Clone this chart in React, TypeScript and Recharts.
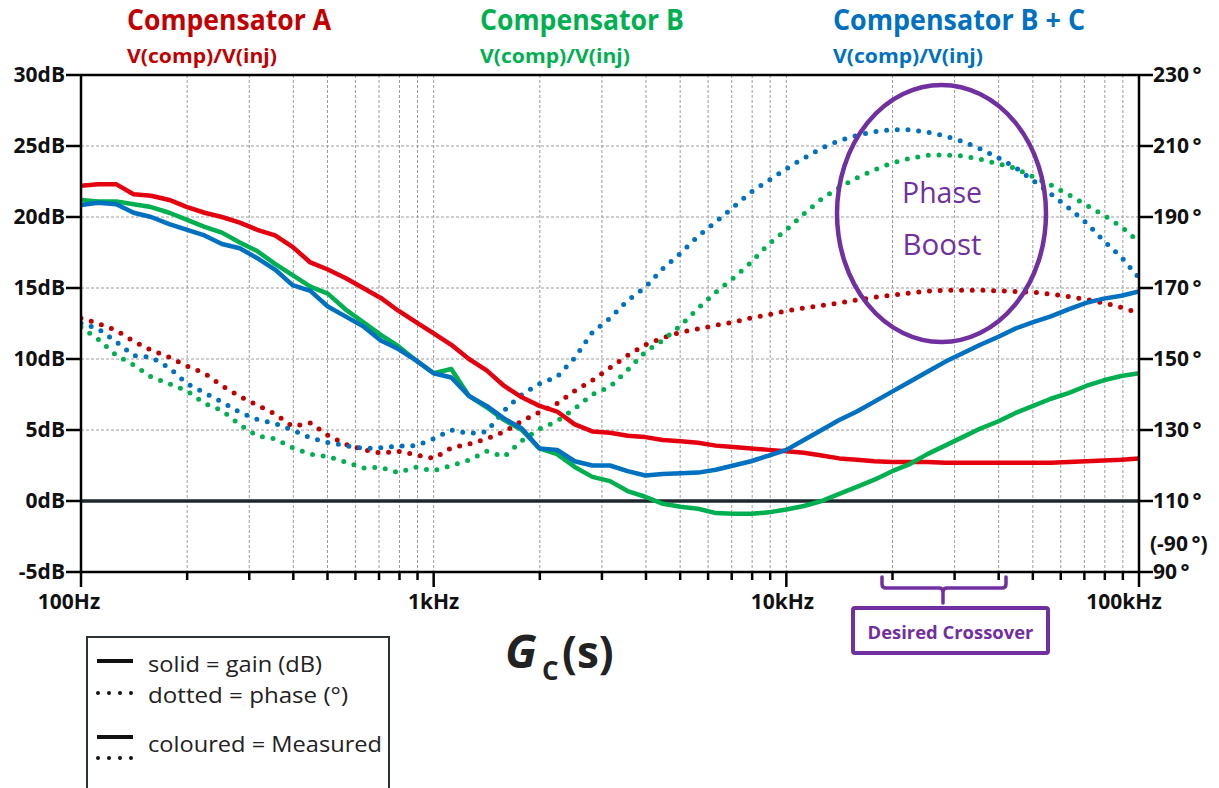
import React from 'react';
import { LineChart, Line, XAxis, YAxis, CartesianGrid, ReferenceLine } from 'recharts';

// measurement frequencies (Hz), 20 points per decade
const freqs = [
  100, 112, 126, 141, 158, 178, 200, 224, 251, 282,
  316, 355, 398, 447, 501, 562, 631, 708, 794, 891,
  1000, 1122, 1259, 1413, 1585, 1778, 1995, 2239, 2512, 2818,
  3162, 3548, 3981, 4467, 5012, 5623, 6310, 7079, 7943, 8913,
  10000, 11220, 12589, 14125, 15849, 17783, 19953, 22387, 25119, 28184,
  31623, 35481, 39811, 44668, 50119, 56234, 63096, 70795, 79433, 89125,
  100000,
];

// gain in dB
const gainA = [
  22.2, 22.3, 22.3, 21.6, 21.5, 21.2, 20.7, 20.3, 20.0, 19.6,
  19.1, 18.7, 17.9, 16.8, 16.3, 15.7, 15.0, 14.3, 13.4, 12.6,
  11.8, 11.0, 10.0, 9.2, 8.1, 7.3, 6.7, 6.3, 5.4, 4.9,
  4.8, 4.6, 4.5, 4.3, 4.2, 4.1, 3.9, 3.8, 3.7, 3.6,
  3.5, 3.4, 3.2, 3.0, 2.9, 2.8, 2.75, 2.75, 2.75, 2.7,
  2.7, 2.7, 2.7, 2.7, 2.7, 2.7, 2.75, 2.8, 2.85, 2.9,
  3.0,
];
const gainB = [
  21.2, 21.1, 21.1, 20.9, 20.7, 20.3, 19.8, 19.3, 18.9, 18.2,
  17.6, 16.7, 15.9, 15.1, 14.6, 13.5, 12.6, 11.7, 10.9, 9.9,
  9.0, 9.3, 7.4, 6.6, 5.7, 5.0, 3.7, 3.3, 2.4, 1.7,
  1.4, 0.7, 0.3, -0.2, -0.4, -0.55, -0.85, -0.9, -0.9, -0.8,
  -0.6, -0.35, 0.0, 0.5, 1.0, 1.5, 2.1, 2.6, 3.3, 3.9,
  4.5, 5.1, 5.6, 6.2, 6.7, 7.2, 7.6, 8.1, 8.5, 8.8,
  9.0,
];
const gainBC = [
  20.85, 21.0, 20.9, 20.3, 20.0, 19.5, 19.1, 18.7, 18.1, 17.8,
  17.1, 16.3, 15.2, 14.8, 13.7, 13.0, 12.3, 11.3, 10.7, 9.9,
  9.0, 8.7, 7.4, 6.7, 5.8, 5.1, 3.7, 3.6, 2.8, 2.5,
  2.5, 2.1, 1.8, 1.9, 1.95, 2.0, 2.2, 2.5, 2.8, 3.2,
  3.6, 4.3, 5.0, 5.7, 6.3, 7.0, 7.7, 8.4, 9.1, 9.8,
  10.4, 11.0, 11.55, 12.15, 12.6, 13.0, 13.5, 13.95, 14.25, 14.45,
  14.75,
];

// phase in degrees
const phaseA = [
  161.5, 160, 158, 155, 152.5, 150.5, 148, 146, 142.5, 139.5,
  137, 134.5, 131, 132, 128.5, 126, 124.5, 123.5, 124, 123,
  122, 125, 126, 127.5, 129.5, 132.5, 135, 137.5, 141, 144,
  147.5, 151, 154, 156, 157.5, 158.5, 159.5, 160.4, 161.6, 162.5,
  163.5, 164.4, 165.1, 165.8, 166.6, 167.4, 168, 168.6, 169.1, 169.4,
  169.4, 169.4, 169.2, 169.0, 168.8, 168.3, 167.6, 166.8, 165.8, 164.5,
  163,
];
const phaseB = [
  159, 155.5, 151, 148.3, 145, 143, 141, 137.5, 135.5, 131.5,
  128.3, 127.5, 125, 123.2, 122.5, 121, 119.3, 119.5, 118, 119.5,
  118.5, 120, 121.5, 124, 122.5, 127, 130.3, 132.5, 136, 140,
  142.2, 146.9, 152, 155.3, 159.4, 164.3, 168.8, 172.8, 177.2, 182.4,
  186.4, 190.9, 195.1, 198.3, 201, 203.3, 205.2, 206.5, 207.4, 207.5,
  207.2, 206.3, 205, 203.7, 201.3, 199, 196.3, 193.4, 190.5, 187.3,
  183,
];
const phaseBC = [
  160.1, 158.5, 154.8, 151, 150.5, 147.5, 143, 140.5, 137.9, 135,
  133, 131.8, 130, 127.8, 126.5, 125.6, 124.8, 125, 125.5, 125.6,
  127.5, 130, 129, 129.5, 135.5, 140, 143, 145, 150.3, 157.5,
  161.5, 166.5, 170.2, 175.5, 179.8, 184.6, 188.6, 192.8, 197, 200.3,
  203.6, 206.6, 209.4, 211.5, 213, 214, 214.6, 214.6, 213.9, 212.8,
  211.3, 209.2, 206.7, 203.9, 200.3, 196.5, 192.6, 188.4, 183.3, 178.7,
  172.8,
];

const freqTicks = [
  100, 200, 300, 400, 500, 600, 700, 800, 900,
  1000, 2000, 3000, 4000, 5000, 6000, 7000, 8000, 9000,
  10000, 20000, 30000, 40000, 50000, 60000, 70000, 80000, 90000,
  100000,
];
const decadeLabels: Record<number, string> = { 100: '100Hz', 1000: '1kHz', 10000: '10kHz', 100000: '100kHz' };
const gainTicks = [-5, 0, 5, 10, 15, 20, 25, 30];
const phaseTicks = [90, 110, 130, 150, 170, 190, 210, 230];

const rows = freqs.map((f, i) => ({
  f,
  gainA: gainA[i],
  gainB: gainB[i],
  gainBC: gainBC[i],
  phaseA: phaseA[i],
  phaseB: phaseB[i],
  phaseBC: phaseBC[i],
}));

const RED = '#e5000f';
const RED_DARK = '#c00000';
const GREEN = '#00b050';
const BLUE = '#0070c0';
const PURPLE = '#7030a0';
const FONT = '"Open Sans", "Noto Sans", sans-serif';

const labelShift: Record<number, number> = { 100: -12, 1000: 0, 10000: -4, 100000: -15 };

const FreqTick = (props: any) => {
  const { x, y, payload } = props;
  const v = payload.value;
  const label = decadeLabels[v];
  return (
    <g>
      <line x1={x} x2={x} y1={y} y2={y + (label ? 15 : 8)} stroke="#000" strokeWidth={2.5} />
      {label && (
        <text x={x + labelShift[v]} y={y + 37} textAnchor="middle" fontSize={21} fontWeight={700} fontFamily={FONT} fill="#111">
          {label}
        </text>
      )}
    </g>
  );
};

const GainTick = (props: any) => {
  const { x, y, payload } = props;
  return (
    <g>
      <line x1={x - 15} x2={x} y1={y} y2={y} stroke="#000" strokeWidth={2.5} />
      <text x={x - 16} y={y + 7} textAnchor="end" fontSize={21} fontWeight={700} fontFamily={FONT} fill="#111">
        {`${payload.value}dB`}
      </text>
    </g>
  );
};

const PhaseTick = (props: any) => {
  const { x, y, payload } = props;
  return (
    <g>
      <line x1={x} x2={x + 14} y1={y} y2={y} stroke="#000" strokeWidth={2.5} />
      <text x={x + 14} y={y + 7} textAnchor="start" fontSize={21} fontWeight={700} fontFamily={FONT} fill="#111">
        {`${payload.value}\u2009°`}
      </text>
    </g>
  );
};

const dotted = { strokeWidth: 5, strokeDasharray: '0 10.7', strokeLinecap: 'round' as const };

export default function App() {
  return (
    <div style={{ position: 'absolute', left: 0, top: 0, width: 1219, height: 788, background: '#fff', overflow: 'hidden' }}>
      <LineChart width={1219} height={788} data={rows} margin={{ top: 75, right: 0, left: 0, bottom: 186 }}>
        <CartesianGrid yAxisId="db" stroke="#9c9c9c" strokeDasharray="3 2" strokeWidth={1} />
        <XAxis
          dataKey="f"
          type="number"
          scale="log"
          domain={[100, 100000]}
          allowDataOverflow
          ticks={freqTicks}
          interval={0}
          height={30}
          tickSize={0}
          tickMargin={0}
          tickLine={false}
          tick={<FreqTick />}
          axisLine={{ stroke: '#000', strokeWidth: 2.5 }}
        />
        <YAxis
          yAxisId="db"
          orientation="left"
          domain={[-5, 30]}
          ticks={gainTicks}
          interval={0}
          width={81}
          tickSize={0}
          tickMargin={0}
          tickLine={false}
          tick={<GainTick />}
          axisLine={{ stroke: '#000', strokeWidth: 2.5 }}
        />
        <YAxis
          yAxisId="deg"
          orientation="right"
          domain={[90, 230]}
          ticks={phaseTicks}
          interval={0}
          width={80}
          tickSize={0}
          tickMargin={0}
          tickLine={false}
          tick={<PhaseTick />}
          axisLine={{ stroke: '#000', strokeWidth: 2.5 }}
        />
        <ReferenceLine yAxisId="db" y={30} stroke="#000" strokeWidth={2.5} />
        <ReferenceLine yAxisId="db" y={0} stroke="#1e272d" strokeWidth={3.5} />

        <Line yAxisId="deg" dataKey="phaseA" type="linear" stroke={RED_DARK} dot={false} isAnimationActive={false} {...dotted} />
        <Line yAxisId="deg" dataKey="phaseB" type="linear" stroke={GREEN} dot={false} isAnimationActive={false} {...dotted} />
        <Line yAxisId="deg" dataKey="phaseBC" type="linear" stroke={BLUE} dot={false} isAnimationActive={false} {...dotted} />

        <Line yAxisId="db" dataKey="gainA" type="linear" stroke={RED} strokeWidth={4.5} strokeLinejoin="round" dot={false} isAnimationActive={false} />
        <Line yAxisId="db" dataKey="gainB" type="linear" stroke={GREEN} strokeWidth={4.5} strokeLinejoin="round" dot={false} isAnimationActive={false} />
        <Line yAxisId="db" dataKey="gainBC" type="linear" stroke={BLUE} strokeWidth={4.5} strokeLinejoin="round" dot={false} isAnimationActive={false} />
      </LineChart>

      {/* titles, annotations and the key */}
      <svg width={1219} height={788} style={{ position: 'absolute', left: 0, top: 0, pointerEvents: 'none' }} fontFamily={FONT}>
        <text x={127} y={30} fontSize={29} fontWeight={700} fill={RED_DARK} textLength={204} lengthAdjust="spacingAndGlyphs">Compensator A</text>
        <text x={127} y={63} fontSize={19} fontWeight={700} fill={RED_DARK} textLength={150} lengthAdjust="spacingAndGlyphs">V(comp)/V(inj)</text>
        <text x={480} y={30} fontSize={29} fontWeight={700} fill={GREEN} textLength={204} lengthAdjust="spacingAndGlyphs">Compensator B</text>
        <text x={480} y={63} fontSize={19} fontWeight={700} fill={GREEN} textLength={150} lengthAdjust="spacingAndGlyphs">V(comp)/V(inj)</text>
        <text x={833} y={30} fontSize={29} fontWeight={700} fill={BLUE} textLength={252} lengthAdjust="spacingAndGlyphs">Compensator B + C</text>
        <text x={833} y={63} fontSize={19} fontWeight={700} fill={BLUE} textLength={150} lengthAdjust="spacingAndGlyphs">V(comp)/V(inj)</text>

        <text x={1150} y={551} fontSize={21} fontWeight={700} fill="#111">(-90{'\u2009'}°)</text>

        <ellipse cx={941.5} cy={213.5} rx={104.5} ry={128.5} fill="none" stroke={PURPLE} strokeWidth={4.5} />
        <text x={942} y={203} textAnchor="middle" fontSize={30} fill={PURPLE} textLength={80} lengthAdjust="spacingAndGlyphs">Phase</text>
        <text x={942} y={255} textAnchor="middle" fontSize={30} fill={PURPLE} textLength={79} lengthAdjust="spacingAndGlyphs">Boost</text>

        <path d="M882 577 V584 Q882 588 886 588 H939 Q943 588 943 592 V603 M943 592 Q943 588 947 588 H1002 Q1006 588 1006 584 V577"
          fill="none" stroke={PURPLE} strokeWidth={3.5} strokeLinecap="round" />
        <rect x={853} y={608} width={195} height={45} rx={2} fill="#fff" stroke={PURPLE} strokeWidth={4} />
        <text x={950.5} y={639} textAnchor="middle" fontSize={17} fontWeight={700} fill={PURPLE} textLength={166} lengthAdjust="spacingAndGlyphs">Desired Crossover</text>

        <text x={505} y={668} fontSize={46} fontWeight={700} fontStyle="italic" fill="#222">G</text>
        <text x={542} y={680} fontSize={26} fontWeight={700} fill="#222">C</text>
        <text x={562} y={668} fontSize={44} fontWeight={700} fill="#222">(s)</text>

        <rect x={87} y={637} width={302} height={170} fill="#fff" stroke="#2c3338" strokeWidth={2} />
        <line x1={97} x2={133} y1={661} y2={661} stroke="#111" strokeWidth={4} />
        <text x={148} y={672} fontSize={22} fill="#222" textLength={174} lengthAdjust="spacingAndGlyphs">solid = gain (dB)</text>
        <line x1={98} x2={134} y1={693} y2={693} stroke="#111" strokeWidth={4} strokeDasharray="0 11" strokeLinecap="round" />
        <text x={148} y={703} fontSize={22} fill="#222" textLength={200} lengthAdjust="spacingAndGlyphs">dotted = phase (°)</text>
        <line x1={97} x2={133} y1={737} y2={737} stroke="#111" strokeWidth={4} />
        <line x1={98} x2={134} y1={758} y2={758} stroke="#111" strokeWidth={4} strokeDasharray="0 11" strokeLinecap="round" />
        <text x={148} y={752} fontSize={22} fill="#222" textLength={234} lengthAdjust="spacingAndGlyphs">coloured = Measured</text>
      </svg>
    </div>
  );
}
